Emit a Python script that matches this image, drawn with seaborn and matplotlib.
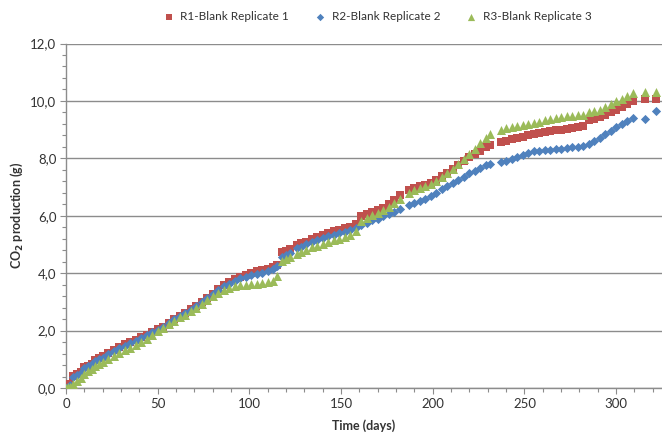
import numpy as np
import pandas as pd
import matplotlib
matplotlib.use("Agg")
import matplotlib.pyplot as plt
from matplotlib.ticker import MultipleLocator, FuncFormatter
import seaborn as sns

# Sampling days (shared by all three replicates)
days = [0, 1, 2, 4, 6, 8, 10, 12, 14, 16, 18, 20, 23, 26, 29, 32, 35, 38, 41, 44,
        47, 50, 53, 56, 59, 62, 65, 68, 71, 74, 77, 80, 83, 86, 89, 92, 95, 98, 101, 104,
        107, 110, 113, 115, 118, 120, 122, 126, 128, 131, 134, 137, 140, 143, 146, 149, 152, 155, 158, 161,
        164, 167, 170, 173, 176, 179, 182, 187, 190, 193, 196, 199, 202, 205, 208, 211, 214, 217, 220, 223,
        226, 229, 231, 237, 240, 243, 246, 249, 252, 255, 258, 261, 264, 267, 270, 273, 276, 279, 282, 285,
        288, 291, 294, 297, 300, 303, 306, 309, 316, 322]

# Cumulative CO2 production (g)
r1_blank = [0.00, 0.05, 0.15, 0.42, 0.48, 0.55, 0.72, 0.78, 0.85, 0.98, 1.04, 1.10, 1.22, 1.32, 1.42, 1.52, 1.60, 1.68, 1.78, 1.86,
            1.95, 2.04, 2.14, 2.28, 2.40, 2.50, 2.60, 2.74, 2.86, 2.98, 3.14, 3.28, 3.44, 3.58, 3.70, 3.80, 3.88, 3.95, 4.00, 4.06,
            4.10, 4.16, 4.22, 4.30, 4.72, 4.78, 4.84, 4.98, 5.04, 5.10, 5.18, 5.26, 5.33, 5.40, 5.46, 5.52, 5.58, 5.62, 5.70, 5.98,
            6.05, 6.12, 6.20, 6.28, 6.42, 6.56, 6.72, 6.88, 6.95, 7.02, 7.08, 7.15, 7.26, 7.38, 7.50, 7.62, 7.78, 7.92, 8.04, 8.14,
            8.26, 8.38, 8.45, 8.56, 8.62, 8.68, 8.72, 8.76, 8.80, 8.84, 8.88, 8.91, 8.94, 8.97, 9.00, 9.03, 9.06, 9.08, 9.12, 9.32,
            9.38, 9.44, 9.52, 9.60, 9.70, 9.80, 9.90, 10.00, 10.08, 10.08]

r2_blank = [0.00, 0.05, 0.12, 0.40, 0.46, 0.52, 0.70, 0.76, 0.84, 0.95, 1.00, 1.06, 1.18, 1.28, 1.38, 1.48, 1.56, 1.65, 1.74, 1.84,
            1.94, 2.03, 2.14, 2.28, 2.40, 2.50, 2.60, 2.72, 2.85, 2.98, 3.12, 3.26, 3.40, 3.54, 3.64, 3.74, 3.82, 3.88, 3.94, 3.98,
            4.02, 4.08, 4.16, 4.24, 4.58, 4.64, 4.70, 4.86, 4.92, 5.00, 5.08, 5.15, 5.22, 5.28, 5.34, 5.40, 5.45, 5.50, 5.58, 5.68,
            5.76, 5.84, 5.90, 5.98, 6.06, 6.14, 6.24, 6.38, 6.46, 6.52, 6.60, 6.70, 6.80, 6.92, 7.04, 7.14, 7.26, 7.36, 7.48, 7.56,
            7.68, 7.76, 7.80, 7.86, 7.90, 7.96, 8.04, 8.12, 8.20, 8.24, 8.26, 8.28, 8.30, 8.32, 8.34, 8.36, 8.38, 8.40, 8.42, 8.50,
            8.60, 8.72, 8.84, 8.96, 9.08, 9.18, 9.30, 9.42, 9.36, 9.66]

r3_blank = [0.00, 0.02, 0.05, 0.15, 0.24, 0.35, 0.48, 0.58, 0.66, 0.75, 0.84, 0.92, 1.02, 1.12, 1.22, 1.32, 1.40, 1.50, 1.60, 1.72,
            1.85, 1.98, 2.10, 2.22, 2.34, 2.46, 2.56, 2.68, 2.80, 2.92, 3.06, 3.20, 3.32, 3.42, 3.50, 3.54, 3.58, 3.60, 3.62, 3.64,
            3.66, 3.68, 3.72, 3.90, 4.42, 4.50, 4.56, 4.66, 4.72, 4.82, 4.90, 4.96, 5.02, 5.08, 5.14, 5.20, 5.26, 5.32, 5.48, 5.80,
            5.92, 6.02, 6.10, 6.20, 6.32, 6.46, 6.60, 6.80, 6.88, 6.96, 7.04, 7.12, 7.22, 7.34, 7.48, 7.62, 7.80, 7.98, 8.16, 8.34,
            8.52, 8.72, 8.86, 9.00, 9.04, 9.08, 9.12, 9.16, 9.20, 9.24, 9.28, 9.32, 9.36, 9.40, 9.44, 9.46, 9.48, 9.50, 9.52, 9.60,
            9.64, 9.70, 9.78, 9.88, 9.98, 10.08, 10.18, 10.26, 10.32, 10.32]

series_names = ["R1-Blank Replicate 1", "R2-Blank Replicate 2", "R3-Blank Replicate 3"]

df = pd.concat([
    pd.DataFrame({"day": days, "co2": vals, "series": name})
    for name, vals in zip(series_names, [r1_blank, r2_blank, r3_blank])
], ignore_index=True)

sns.set_theme(style="white")
plt.rcParams["font.family"] = ["Lato", "DejaVu Sans"]

text_color = "#333333"
grid_color = "#8c8c8c"

fig = plt.figure(figsize=(6.62, 4.37), dpi=100)
ax = fig.add_axes([66 / 662, 49 / 437, 596 / 662, 344.5 / 437])

styles = {
    series_names[0]: dict(color="#C0504D", marker="s", s=32),
    series_names[1]: dict(color="#4F81BD", marker="D", s=22),
    series_names[2]: dict(color="#9BBB59", marker="^", s=42),
}
for name in series_names:
    st = styles[name]
    sns.scatterplot(data=df[df["series"] == name], x="day", y="co2", ax=ax,
                    color=st["color"], marker=st["marker"], s=st["s"],
                    linewidth=0, label=name, zorder=3)

ax.set_xlim(0, 325)
ax.set_ylim(0, 12)
ax.xaxis.set_major_locator(MultipleLocator(50))
ax.xaxis.set_minor_locator(MultipleLocator(10))
ax.yaxis.set_major_locator(MultipleLocator(2))
ax.yaxis.set_minor_locator(MultipleLocator(0.4))
ax.yaxis.set_major_formatter(FuncFormatter(lambda v, p: f"{v:.1f}".replace(".", ",")))

ax.grid(False)
ax.yaxis.grid(True, which="major", color=grid_color, linewidth=1.0, zorder=0)
ax.set_axisbelow(True)

for side in ["top", "right"]:
    ax.spines[side].set_visible(False)
for side in ["left", "bottom"]:
    ax.spines[side].set_color(grid_color)
    ax.spines[side].set_linewidth(1.0)

ax.tick_params(axis="both", which="major", direction="out", length=4, width=0.8,
               color=grid_color, labelsize=9.5, labelcolor=text_color, pad=3,
               left=True, bottom=True)
ax.tick_params(axis="both", which="minor", direction="out", length=3, width=0.8,
               color=grid_color, left=True, bottom=True)

ax.set_xlabel("Time (days)", fontsize=9, fontweight="bold", color=text_color, labelpad=7)
ax.set_ylabel(r"CO$_\mathbf{2}$ production (g)", fontsize=9, fontweight="bold",
              color=text_color, labelpad=4)

handles, labels = ax.get_legend_handles_labels()
leg = fig.legend(handles, labels, loc="center", bbox_to_anchor=(0.565, 0.963), ncol=3,
                 frameon=False, fontsize=8.5, handletextpad=0.0, columnspacing=1.6,
                 markerscale=0.8)
for t in leg.get_texts():
    t.set_color(text_color)
if ax.get_legend():
    ax.get_legend().remove()

fig.savefig("out.png", dpi=100)
